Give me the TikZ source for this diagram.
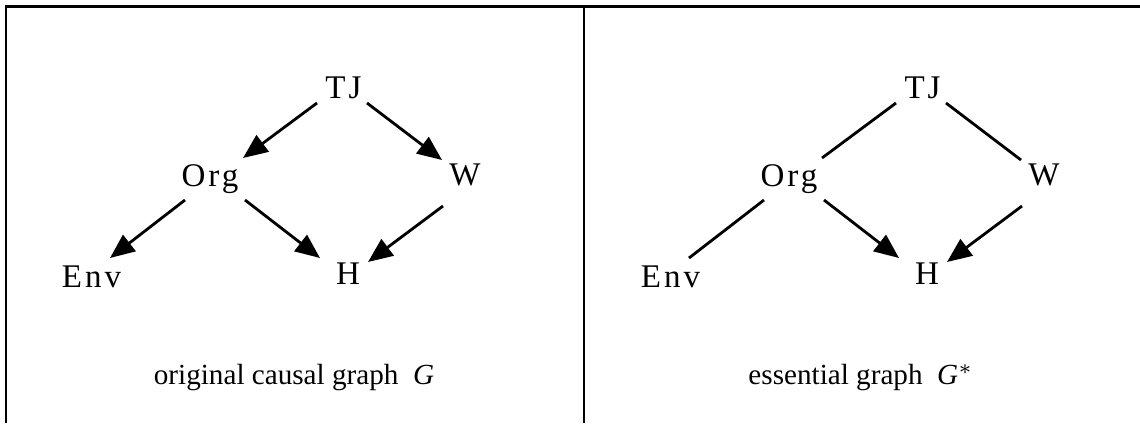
\documentclass[tikz,border=0pt]{standalone}
\usepackage{fontspec}
\setmainfont{Liberation Serif}
\usetikzlibrary{arrows.meta}

\begin{document}
\begin{tikzpicture}[
    var/.style={font=\fontsize{9.4}{11}\selectfont\addfontfeature{LetterSpace=9}, inner sep=0pt, anchor=base},
    caption/.style={font=\fontsize{8.3}{10}\selectfont, anchor=base},
    frame/.style={line width=0.85pt},
    arrow/.style={-{Triangle[length=7pt,width=5.8pt]}, line width=0.8pt},
    undir/.style={line width=0.8pt}
  ]
    \useasboundingbox (0,0) rectangle (11.4,4.23);

    % Table frame
    \draw[frame] (0.06,0) -- (0.06,4.17) -- (11.4,4.17);
    \draw[frame] (5.84,0) -- (5.84,4.17);

    % Original graph G
    \node[var] (tj_g) at (3.435,3.25) {TJ};
    \node[var] (org_g) at (2.10,2.37) {Org};
    \node[var] (w_g) at (4.65,2.375) {W};
    \node[var] (h_g) at (3.48,1.39) {H};
    \node[var] (env_g) at (0.915,1.36) {Env};

    % Essential graph G*
    \node[var] (tj_e) at (9.225,3.25) {TJ};
    \node[var] (org_e) at (7.89,2.37) {Org};
    \node[var] (w_e) at (10.44,2.375) {W};
    \node[var] (h_e) at (9.27,1.39) {H};
    \node[var] (env_e) at (6.705,1.36) {Env};

    % Arrows
    \draw[arrow] ([shift={(-0.265,-0.05)}]tj_g.base) -- ([shift={(0.33,0.28)}]org_g.base);
    \draw[arrow] ([shift={(0.235,-0.05)}]tj_g.base) -- ([shift={(-0.23,0.255)}]w_g.base);
    \draw[arrow] ([shift={(0.35,-0.14)}]org_g.base) -- ([shift={(-0.28,0.26)}]h_g.base);
    \draw[arrow] ([shift={(-0.22,-0.205)}]w_g.base) -- ([shift={(0.20,0.22)}]h_g.base);
    \draw[arrow] ([shift={(-0.25,-0.14)}]org_g.base) -- ([shift={(0.185,0.29)}]env_g.base);

    \draw[undir] ([shift={(-0.265,-0.05)}]tj_e.base) -- ([shift={(0.33,0.28)}]org_e.base);
    \draw[undir] ([shift={(0.235,-0.05)}]tj_e.base) -- ([shift={(-0.23,0.255)}]w_e.base);
    \draw[arrow] ([shift={(0.35,-0.14)}]org_e.base) -- ([shift={(-0.28,0.26)}]h_e.base);
    \draw[arrow] ([shift={(-0.22,-0.205)}]w_e.base) -- ([shift={(0.20,0.22)}]h_e.base);
    \draw[undir] ([shift={(-0.25,-0.14)}]org_e.base) -- ([shift={(0.185,0.29)}]env_e.base);

    % Labels
    \node[caption] (cap_g) at (2.94,0.39) {original causal graph\ \ \textit{G}};
    \node[caption] (cap_e) at (8.61,0.39) {essential graph\ \ \textit{G}$^{*}$};
\end{tikzpicture}
\end{document}
